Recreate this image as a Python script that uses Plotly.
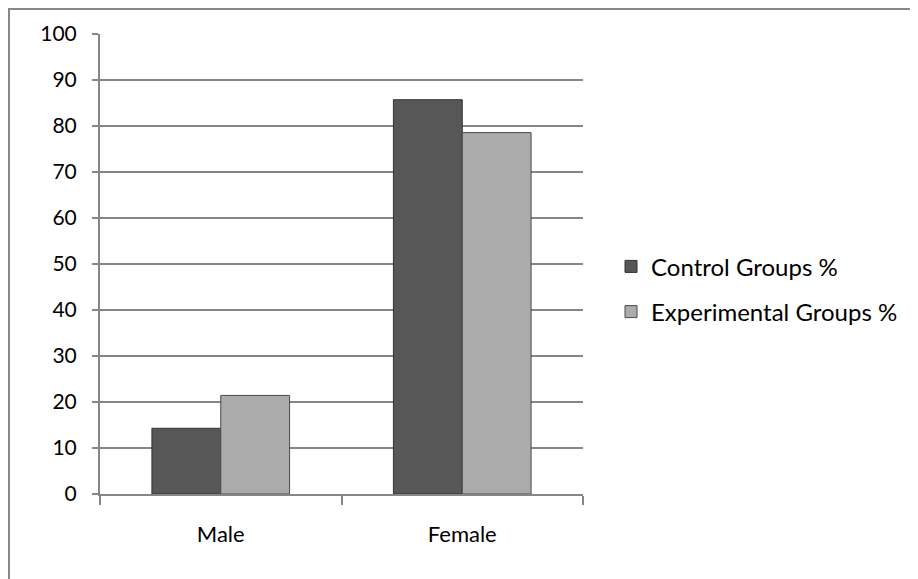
import plotly.graph_objects as go

categories = ["Male", "Female"]
control = [14.29, 85.71]
experimental = [21.43, 78.57]
y_ticks = [0, 10, 20, 30, 40, 50, 60, 70, 80, 90, 100]

W, H = 918, 579
L, T = 92, 26
pw, ph = 483, 460
R, B = W - L - pw, H - T - ph

fig = go.Figure()
fig.add_trace(go.Bar(x=categories, y=control, name="Control Groups %",
                     marker=dict(color="#575757", line=dict(color="#333333", width=1)),
                     legendgroup="a"))
fig.add_trace(go.Bar(x=categories, y=experimental, name="Experimental Groups %",
                     marker=dict(color="#ababab", line=dict(color="#4a4a4a", width=1)),
                     legendgroup="b"))

# outer chart frame (left and top edges)
px_x = lambda v: (v - L) / pw
px_y = lambda v: (H - B - v) / ph
fig.add_shape(type="line", xref="paper", yref="paper", x0=px_x(0), x1=px_x(W + 2),
              y0=px_y(1), y1=px_y(1), line=dict(color="#888888", width=2))
fig.add_shape(type="line", xref="paper", yref="paper", x0=px_x(1), x1=px_x(1),
              y0=px_y(0), y1=px_y(H + 2), line=dict(color="#888888", width=2))

fig.update_layout(
    width=W, height=H,
    margin=dict(l=L, r=R, t=T, b=B),
    paper_bgcolor="white", plot_bgcolor="white",
    barmode="group", bargap=0.43, bargroupgap=0,
    font=dict(family="Lato, sans-serif", size=22, color="black"),
    showlegend=True,
    legend=dict(x=1.058, y=0.445, xanchor="left", yanchor="middle",
                traceorder="grouped", tracegroupgap=11,
                font=dict(size=24), itemwidth=30),
)
fig.update_xaxes(showline=True, linecolor="#868686", linewidth=2,
                 ticks="outside", tickson="boundaries", ticklen=9, tickcolor="#868686",
                 tickwidth=2, ticklabelstandoff=20, showgrid=False,
                 tickfont=dict(size=22))
fig.update_yaxes(range=[0, 100], tickvals=y_ticks, showline=True, linecolor="#868686",
                 linewidth=2, ticks="outside", ticklen=6, tickcolor="#868686", tickwidth=2,
                 gridcolor="#868686", gridwidth=2, ticklabelstandoff=11, zeroline=False,
                 tickfont=dict(size=21))

fig.write_html("out.html")
